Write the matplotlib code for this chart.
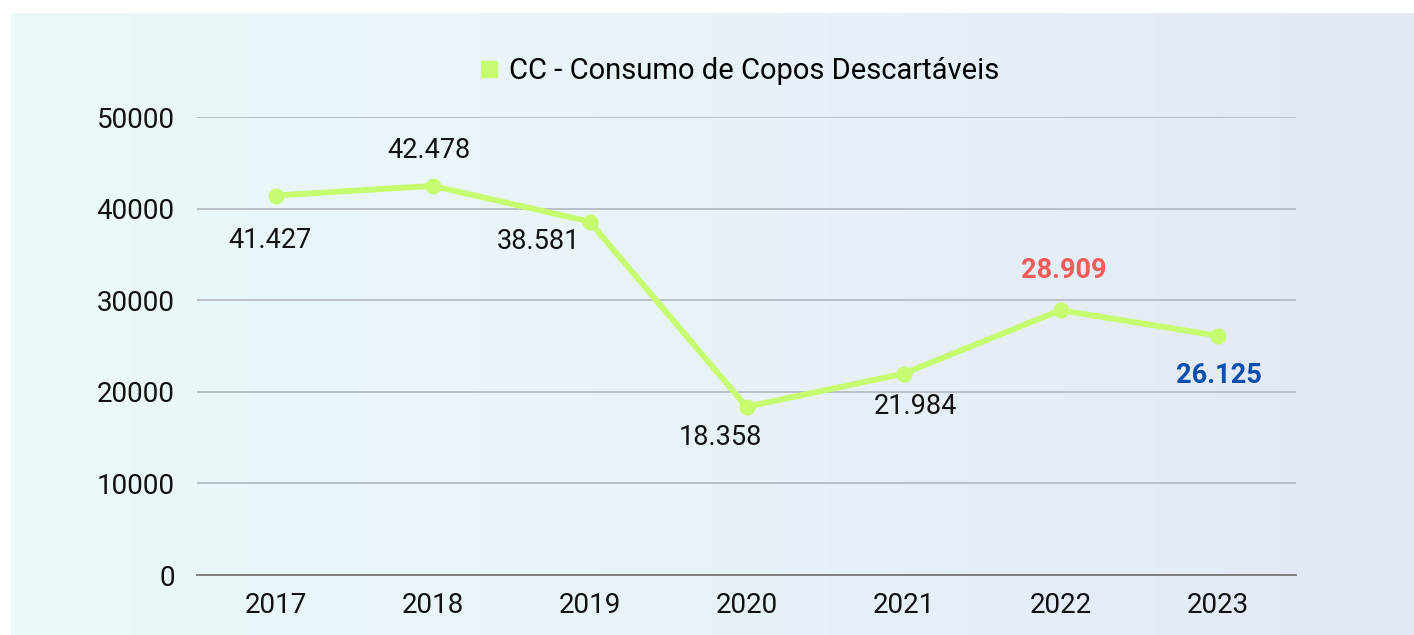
import numpy as np
from matplotlib import pyplot as plt
from matplotlib.colors import LinearSegmentedColormap

plt.rcParams['font.family'] = ['Roboto', 'DejaVu Sans']

anos = ['2017', '2018', '2019', '2020', '2021', '2022', '2023']
consumo = [41427, 42478, 38581, 18358, 21984, 28909, 26125]
rotulos = ['41.427', '42.478', '38.581', '18.358', '21.984', '28.909', '26.125']
titulo_serie = 'CC - Consumo de Copos Descartáveis'

# deslocamento do rótulo em pixels (dx, dy) e estilo
desloc = [(-6, -45), (-4, 35), (-51, -20), (-26, -31), (12, -33), (3, 40), (1, -40)]
cores_rot = ['#111111'] * 5 + ['#F45B5B', '#0A4DAD']
pesos = ['normal'] * 5 + ['bold', 'bold']

fig = plt.figure(figsize=(14.14, 6.35), dpi=100)

# fundo em degradê
bg = fig.add_axes([11 / 1414, 0, 1 - 11 / 1414, 1 - 13 / 635])
cmap = LinearSegmentedColormap.from_list('fundo', ['#EBF9FA', '#E8F3F8', '#E2E8F4'])
bg.imshow(np.linspace(0, 1, 256).reshape(1, -1), aspect='auto', cmap=cmap, extent=[0, 1, 0, 1])
bg.axis('off')

ax = fig.add_axes([197 / 1414, 60 / 635, 1099 / 1414, 458 / 635])
ax.patch.set_alpha(0)
x = np.arange(len(anos))
cor_linha = '#C6FB70'
ax.plot(x, consumo, color=cor_linha, lw=4.2, marker='o', ms=10.5, solid_capstyle='round', zorder=3)

for i, v in enumerate(consumo):
    dx, dy = desloc[i]
    ax.annotate(rotulos[i], (x[i], v), xytext=(dx * 0.72, dy * 0.72), textcoords='offset points',
                ha='center', va='center', fontsize=19.5, color=cores_rot[i], fontweight=pesos[i])

ax.set_xlim(-0.5, len(anos) - 0.5)
ax.set_ylim(0, 50000)
ax.set_yticks(range(0, 50001, 10000))
ax.set_xticks(x)
ax.set_xticklabels(anos)
ax.tick_params(axis='both', length=0, labelsize=20, colors='#111111')
ax.tick_params(axis='y', pad=16)
ax.tick_params(axis='x', pad=12)
ax.grid(axis='y', color='#B5BCC4', lw=1.3)
ax.set_axisbelow(True)
for s in ['top', 'right', 'left']:
    ax.spines[s].set_visible(False)
ax.spines['bottom'].set_color('#777777')
ax.spines['bottom'].set_linewidth(1.3)

# legenda
leg = ax.legend([plt.Line2D([], [], color=cor_linha, marker='s', ls='none', ms=11)], [titulo_serie],
                loc='center', bbox_to_anchor=(0.491, 1.1), frameon=False, fontsize=21,
                handletextpad=0.2, handlelength=1.0)

fig.savefig('out.png', dpi=100, facecolor='white')
